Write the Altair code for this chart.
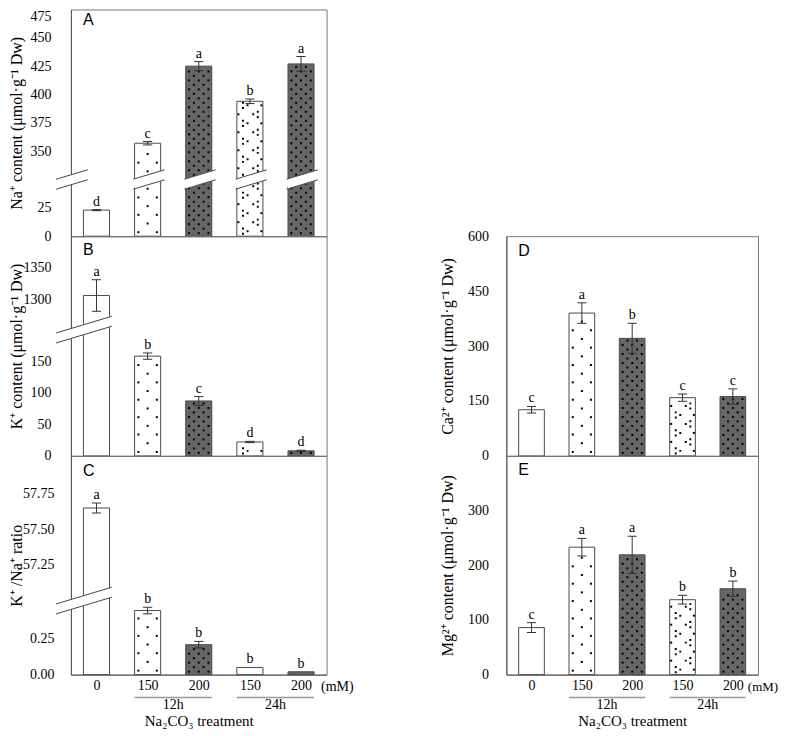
import altair as alt
import pandas as pd

# ---------------- data ----------------
conc = ["0", "150", "200", "150", "200"]
period = ["", "12h", "12h", "24h", "24h"]
texture_kind = ["plain", "dots", "dark", "tri", "dark"]

na_mean = [23, 357, 425, 394, 427]
na_se = [0.5, 1.5, 4, 2, 6.5]
na_sig = ["d", "c", "a", "b", "a"]

k_mean = [1306, 158, 87, 22, 8]
k_se = [25, 5, 7, 1, 1]
k_sig = ["a", "b", "c", "d", "d"]

kna_mean = [57.65, 0.45, 0.21, 0.05, 0.02]
kna_se = [0.035, 0.023, 0.023, 0, 0]
kna_sig = ["a", "b", "b", "b", "b"]

ca_mean = [126, 390, 321, 159, 162]
ca_se = [9, 28, 41, 10, 21]
ca_sig = ["c", "a", "b", "c", "c"]

mg_mean = [86, 233, 219, 137, 157]
mg_se = [9, 16, 34, 8, 14]
mg_sig = ["c", "a", "a", "b", "b"]

na_ticks_low = [0, 25]
na_ticks_high = [350, 375, 400, 425, 450, 475]
k_ticks_low = [0, 50, 100, 150]
k_ticks_high = [1300, 1350]
kna_ticks_low = [0, 0.25]
kna_ticks_high = [57.25, 57.5, 57.75]
ca_ticks = [0, 150, 300, 450, 600]
mg_ticks = [0, 100, 200, 300]

# ---------------- style ----------------
SERIF = "Liberation Serif"
SANS = "Liberation Sans"
HALF = 0.255
DARK = "#666666"
AXC = "#555555"

GT = "M-1,-1.1h0.6v0.6h-0.6Z M0.4,-0.3h0.6v0.6h-0.6Z M-1,0.5h0.6v0.6h-0.6Z"
LT = "M0.4,-1.1h0.6v0.6h-0.6Z M-1,-0.3h0.6v0.6h-0.6Z M0.4,0.5h0.6v0.6h-0.6Z"

panels = {
    "A": dict(mean=na_mean, se=na_se, sig=na_sig, title="Na⁺ content (μmol·g⁻¹ Dw)",
              w=256, h=227, top=200, cut=300, offset=275, brk=50, low=na_ticks_low,
              high=na_ticks_high, fmt=".0f", titleX=-54, lpad=20, ly=3, bottom=False),
    "B": dict(mean=k_mean, se=k_se, sig=k_sig, title="K⁺ content (μmol·g⁻¹ Dw)",
              w=256, h=220, top=348, cut=1000, offset=1052, brk=200, low=k_ticks_low,
              high=k_ticks_high, fmt=".0f", titleX=-54, lpad=20, ly=6, bottom=False),
    "C": dict(mean=kna_mean, se=kna_se, sig=kna_sig, title="K⁺ /Na⁺ ratio",
              w=256, h=219, top=1.536, cut=10, offset=56.48, brk=0.52, low=kna_ticks_low,
              high=kna_ticks_high, fmt=".2f", titleX=-54, lpad=17, ly=7, bottom=True,
              mm_dx=20, mm_size=14),
    "D": dict(mean=ca_mean, se=ca_se, sig=ca_sig, title="Ca²⁺ content (μmol·g⁻¹ Dw)",
              w=252, h=220, top=600, cut=None, ticks=ca_ticks, fmt=".0f", titleX=-59, lpad=18,
              ly=7, bottom=False),
    "E": dict(mean=mg_mean, se=mg_se, sig=mg_sig, title="Mg²⁺ content (μmol·g⁻¹ Dw)",
              w=252, h=219, top=400, cut=None, ticks=mg_ticks, fmt=".0f", titleX=-59, lpad=18,
              ly=6, bottom=True, mm_dx=15, mm_size=13),
}

xscale = alt.Scale(domain=[-0.5, 4.5], nice=False, zero=False)


def make_panel(key):
    p = panels[key]
    ppu = p["h"] / p["top"]
    unit = p["w"] / 5.0
    cut = p["cut"]

    def dv(v):
        return v - p["offset"] if (cut is not None and v > cut) else v

    disp = [dv(v) for v in p["mean"]]

    # axes
    if cut is not None:
        vals = list(p["low"]) + [round(hv - p["offset"], 6) for hv in p["high"]]
        expr = (f"datum.value > {p['brk']} ? format(datum.value + {p['offset']}, '{p['fmt']}')"
                f" : format(datum.value, '{p['fmt']}')")
    else:
        vals = list(p["ticks"])
        expr = f"format(datum.value, '{p['fmt']}')"
    yargs = dict(values=vals, labelExpr=expr, title=p["title"], titleX=p["titleX"],
                 titleY=p["h"] / 2, titleBaseline="middle", titleAngle=270,
                 labelPadding=p["lpad"], ticks=False, labelFlush=False, domainColor=AXC,
                 grid=False)
    if key == "A":
        yargs["labelBaseline"] = {"condition": {"test": f"datum.value >= {p['top'] - 0.001}",
                                                "value": "top"}, "value": "middle"}
    yaxis = alt.Axis(**yargs)
    yscale = alt.Scale(domain=[0, p["top"]], nice=False, zero=False)

    if p["bottom"]:
        lab_expr = "[" + ",".join(f"'{c}'" for c in conc) + "][datum.value]"
        xaxis = alt.Axis(values=[0, 1, 2, 3, 4], labelExpr=lab_expr, labelPadding=4, ticks=False,
                         labelFlush=False, labelAngle=0, title="Na₂CO₃ treatment", titleY=46,
                         titleBaseline="middle", titleFontSize=15, domainColor=AXC, grid=False)
    else:
        xaxis = alt.Axis(labels=False, ticks=False, title=None, domainColor=AXC, grid=False)

    def X(f):
        return alt.X(f"{f}:Q", scale=xscale, axis=xaxis)

    def Y(f):
        return alt.Y(f"{f}:Q", scale=yscale, axis=yaxis)

    df = pd.DataFrame({
        "i": list(range(5)),
        "x0": [i - HALF for i in range(5)],
        "x1": [i + HALF for i in range(5)],
        "y0": [0] * 5,
        "disp": disp,
        "hi": [d + s for d, s in zip(disp, p["se"])],
        "lo": [d - s for d, s in zip(disp, p["se"])],
        "cl": [i - 0.09 for i in range(5)],
        "cr": [i + 0.09 for i in range(5)],
        "se": p["se"],
        "sig": p["sig"],
        "col": [DARK if t == "dark" else "white" for t in texture_kind],
    })

    bars = alt.Chart(df).mark_rect(stroke="#4a4a4a", strokeWidth=1).encode(
        x=X("x0"), x2="x1", y=Y("y0"), y2="disp", fill=alt.Fill("col:N", scale=None))

    # textures
    dots, gts, lts = [], [], []
    for i, (v, kind) in enumerate(zip(disp, texture_kind)):
        top_px = v * ppu
        if kind == "dots":
            y, k = 4.0, 0
            while y < top_px - 3:
                offs = [-0.18, 0.18] if k % 2 == 0 else [0.0]
                for o in offs:
                    dots.append({"x": i + o, "y": y / ppu})
                y += 8.7
                k += 1
        elif kind == "dark":
            y, k = 3.0, 0
            while y < top_px - 2:
                offs = [-0.19, 0.0, 0.19] if k % 2 == 0 else [-0.095, 0.095]
                for o in offs:
                    dots.append({"x": i + o, "y": y / ppu})
                y += 4.5
                k += 1
        elif kind == "tri":
            y, k = 5.0, 0
            while y < top_px - 4:
                if k % 2 == 0:
                    gts.append({"x": i - 0.09, "y": y / ppu})
                    dots.append({"x": i + 0.225, "y": y / ppu})
                else:
                    lts.append({"x": i + 0.11, "y": y / ppu})
                    dots.append({"x": i - 0.225, "y": y / ppu})
                y += 9.0
                k += 1
    layers = [bars]
    if dots:
        layers.append(alt.Chart(pd.DataFrame(dots)).mark_square(
            size=4, color="black", opacity=1).encode(x=X("x"), y=Y("y")))
    if gts:
        layers.append(alt.Chart(pd.DataFrame(gts)).mark_point(
            shape=GT, size=42, filled=True, color="black", opacity=1, strokeWidth=0).encode(
            x=X("x"), y=Y("y")))
    if lts:
        layers.append(alt.Chart(pd.DataFrame(lts)).mark_point(
            shape=LT, size=42, filled=True, color="black", opacity=1, strokeWidth=0).encode(
            x=X("x"), y=Y("y")))

    # axis breaks
    if cut is not None:
        broken = [i for i, v in enumerate(p["mean"]) if v > cut]
        segs = []
        if 0 in broken:
            segs.append((-0.79, 0.30))
            broken.remove(0)
        else:
            segs.append((-0.79, -0.17))
        for i in broken:
            segs.append((i - 0.28, i + 0.33))
        rows = []
        for xa, xb in segs:
            rise = (xb - xa) * unit * 0.3 / 2 / ppu
            rows.append({"xa": xa, "xb": xb, "ya": p["brk"] - rise, "yb": p["brk"] + rise})
        bdf = pd.DataFrame(rows)
        layers.append(alt.Chart(bdf).mark_rule(color="white", strokeWidth=10).encode(
            x=X("xa"), x2="xb", y=Y("ya"), y2="yb"))
        for off in (-5, 5):
            layers.append(alt.Chart(bdf).mark_rule(
                color="#444444", strokeWidth=1, yOffset=off, y2Offset=off).encode(
                x=X("xa"), x2="xb", y=Y("ya"), y2="yb"))

    # error bars
    edf = df[df["se"] > 0]
    layers.append(alt.Chart(edf).mark_rule(color="#333333", strokeWidth=1).encode(
        x=X("i"), y=Y("lo"), y2="hi"))
    for f in ("hi", "lo"):
        layers.append(alt.Chart(edf).mark_rule(color="#333333", strokeWidth=1).encode(
            x=X("cl"), x2="cr", y=Y(f)))

    # significance letters
    layers.append(alt.Chart(df).mark_text(
        font=SERIF, fontSize=14, baseline="alphabetic", dy=-4, color="black").encode(
        x=X("i"), y=Y("hi"), text="sig:N"))

    # panel letter
    layers.append(alt.Chart(pd.DataFrame({"t": [key]})).mark_text(
        font=SANS, fontSize=16, align="left", baseline="top", color="black").encode(
        x=alt.value(12), y=alt.value(p["ly"]), text="t:N"))

    if p["bottom"]:
        h = p["h"]
        layers.append(alt.Chart(pd.DataFrame({"x": [4], "t": ["(mM)"]})).mark_text(
            font=SERIF, fontSize=p["mm_size"], align="left", baseline="middle",
            dx=p["mm_dx"], color="black").encode(
            x=X("x"), y=alt.value(h + 12), text="t:N"))
        grp = []
        for g in [g for g in dict.fromkeys(period) if g]:
            idx = [i for i, q in enumerate(period) if q == g]
            grp.append({"g": g, "xa": min(idx) - HALF, "xb": max(idx) + HALF,
                        "xm": (min(idx) + max(idx)) / 2})
        gdf = pd.DataFrame(grp)
        layers.append(alt.Chart(gdf).mark_rule(color="#999999", strokeWidth=1.5).encode(
            x=X("xa"), x2="xb", y=alt.value(h + 23)))
        layers.append(alt.Chart(gdf).mark_text(
            font=SERIF, fontSize=14, baseline="middle", color="black").encode(
            x=X("xm"), y=alt.value(h + 30.5), text="g:N"))

    return alt.layer(*layers).properties(width=p["w"], height=p["h"])


spacer = alt.Chart(pd.DataFrame({"v": [0]})).mark_text(text=" ", baseline="middle").encode(
    x=alt.value(100), y=alt.value(100)).properties(
    width=252, height=200, view=alt.ViewBackground(stroke=None))

chart = alt.concat(
    make_panel("A"), spacer,
    make_panel("B"), make_panel("D"),
    make_panel("C"), make_panel("E"),
    columns=2, spacing={"row": 0, "column": 180}, bounds="flush",
).properties(
    padding=0
).configure_view(
    stroke="#777777", strokeWidth=1
).configure_axis(
    labelFont=SERIF, labelFontSize=14, labelColor="black",
    titleFont=SERIF, titleFontSize=16, titleFontWeight="normal", titleColor="black",
)

chart.save("out.html", embed_options={"renderer": "svg", "actions": False})
